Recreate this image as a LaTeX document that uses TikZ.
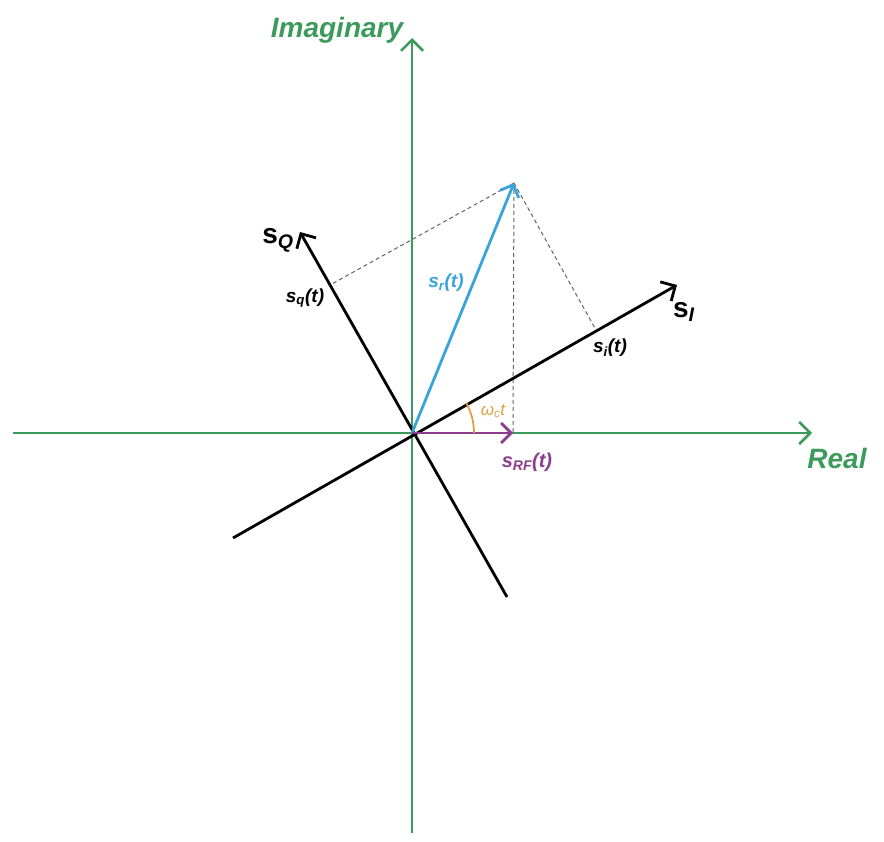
\documentclass[tikz,border=0pt]{standalone}
\usepackage{fontspec}
\setmainfont{Liberation Sans}
\setsansfont{Liberation Sans}
\usetikzlibrary{arrows.meta}
\definecolor{axgreen}{RGB}{60,155,90}
\definecolor{vecblue}{RGB}{59,163,220}
\definecolor{vecpurple}{RGB}{140,62,140}
\definecolor{angorange}{RGB}{222,160,70}
\definecolor{dashgray}{RGB}{100,100,100}
\tikzset{
  axisline/.style={draw=axgreen, line width=2.6pt, -{Straight Barb[length=11pt,width=22pt,line width=2.6pt]}},
  rotaxis/.style={draw=black, line width=2.8pt, -{Straight Barb[length=11pt,width=22pt,line width=2.8pt]}},
  vecarrow/.style={line width=2.8pt, -{Straight Barb[length=10pt,width=20pt,line width=2.8pt]}},
  projline/.style={draw=dashgray, line width=1pt, dash pattern=on 4pt off 3pt},
  axlabel/.style={text=axgreen, font=\fontsize{28}{30}\selectfont\bfseries\itshape, inner sep=0pt},
  biglabel/.style={font=\fontsize{28}{30}\selectfont\bfseries, inner sep=0pt},
  smalllabel/.style={font=\fontsize{19}{22}\selectfont\bfseries\itshape, inner sep=0pt}
}
\begin{document}
\begin{tikzpicture}[x=1pt,y=-1pt]
\useasboundingbox (0,0) rectangle (884,842);
% coordinates
\coordinate (O) at (412,433);
\coordinate (reL) at (13,433);
\coordinate (reR) at (812,433);
\coordinate (imB) at (412,833);
\coordinate (imT) at (412,38);
\coordinate (sIa) at (233,538);
\coordinate (sIb) at (677,285);
\coordinate (sQa) at (507,597);
\coordinate (sQb) at (300,232);
\coordinate (P) at (514,183);
\coordinate (R) at (513,433);
\coordinate (Fi) at (596,330);
\coordinate (Fq) at (330,285);
\coordinate (Rb) at (513,433);
% projections
\draw[projline] (P) -- (Rb);
\draw[projline] (P) -- (Fi);
\draw[projline] (P) -- (Fq);
% axes
\draw[axisline] (reL) -- (reR);
\draw[axisline] (imB) -- (imT);
\draw[rotaxis] (sIa) -- (sIb);
\draw[rotaxis] (sQa) -- (sQb);
% vectors
\draw[vecarrow, draw=vecblue] (O) -- (P);
\draw[vecarrow, draw=vecpurple] (O) -- (R);
% angle arc
\draw[draw=angorange, line width=1.8pt] ([shift={(62pt,0pt)}]O) arc[start angle=0, end angle=29.3, radius=62pt];
% labels
\node[axlabel] (limag) at (337,30) {Imaginary};
\node[axlabel] (lreal) at (837,458) {Real};
\node[biglabel] (lsI) at (684,312) {s\textsubscript{\textit{I}}};
\node[biglabel] (lsQ) at (278,240) {s\textsubscript{\textit{Q}}};
\node[smalllabel] (lsq) at (305,298) {s\textsubscript{q}(t)};
\node[smalllabel] (lsi) at (610,348) {s\textsubscript{i}(t)};
\node[smalllabel, text=vecblue] (lsr) at (446,283) {s\textsubscript{r}(t)};
\node[smalllabel, text=vecpurple, font=\fontsize{20}{22}\selectfont\bfseries\itshape] (lsrf) at (527,462) {s\textsubscript{RF}(t)};
\node[smalllabel, text=angorange, font=\fontsize{17}{20}\selectfont\itshape] (lw) at (493,411) {ω\textsubscript{c}t};
\end{tikzpicture}
\end{document}
